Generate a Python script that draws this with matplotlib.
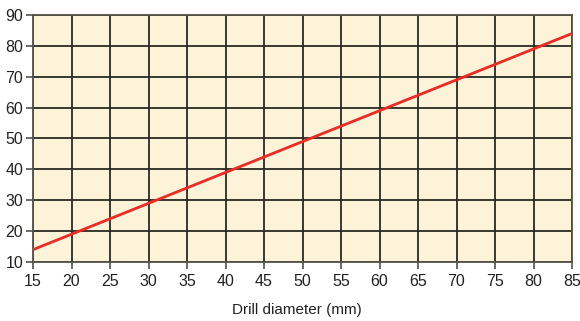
import matplotlib.pyplot as plt
from matplotlib import font_manager
import numpy as np

# drill diameter vs value (straight line)
diameter = [15, 85]
value = [14, 84]

x_ticks = list(range(15, 90, 5))
y_ticks = list(range(10, 100, 10))

plt.rcParams['font.family'] = ['Liberation Sans', 'DejaVu Sans']

names = {f.name for f in font_manager.fontManager.ttflist}
narrow = 'Liberation Sans Narrow' if 'Liberation Sans Narrow' in names else 'Liberation Sans'

fig = plt.figure(figsize=(5.8, 3.21), dpi=100)
ax = fig.add_axes([33/580, 59/321, 539/580, 247/321])
ax.set_facecolor('#fdf3d8')

ax.plot(diameter, value, color='#ee2a24', lw=2, zorder=3, solid_capstyle='butt')

ax.set_xlim(15, 85)
ax.set_ylim(10, 90)
ax.set_xticks(x_ticks)
ax.set_yticks(y_ticks)
ax.grid(True, color='#2a2a22', lw=1.3, zorder=1)
ax.set_axisbelow(True)

for s in ax.spines.values():
    s.set_color('#55524a')
    s.set_linewidth(1.3)

ax.tick_params(length=5, width=1.2, color='#55524a', labelsize=11.5, labelcolor='#222222')
ax.tick_params(axis='x', pad=4)
ax.tick_params(axis='y', pad=2)

ax.set_xlabel('Drill diameter (mm)', fontsize=12.5 if narrow.endswith('Narrow') else 11,
              family=[narrow, 'DejaVu Sans'], color='#222222', labelpad=8)
ax.xaxis.set_label_coords(0.489, -0.165)

fig.savefig('out.png', dpi=100)
